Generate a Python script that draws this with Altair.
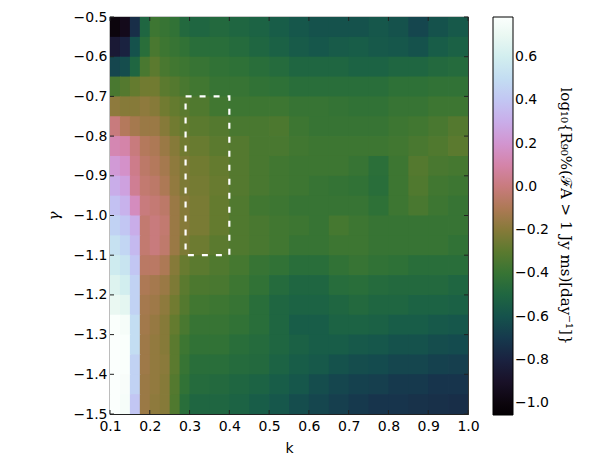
import numpy as np
import pandas as pd
import altair as alt

# ---- data ----
k_edges = [0.1, 0.125, 0.15, 0.175, 0.2, 0.225, 0.25, 0.275, 0.3, 0.35, 0.4, 0.45,
           0.5, 0.55, 0.6, 0.65, 0.7, 0.75, 0.8, 0.85, 0.9, 0.95, 1.0]
gamma_edges = [-0.5, -0.55, -0.6, -0.65, -0.7, -0.75, -0.8, -0.85, -0.9, -0.95, -1.0,
               -1.05, -1.1, -1.15, -1.2, -1.25, -1.3, -1.35, -1.4, -1.45, -1.5]

# log10 rate, one row per gamma band (top to bottom), one value per k band
rate_rows = [
    [-1.0, -0.95, -0.75, -0.5, -0.38, -0.4, -0.42, -0.48, -0.5, -0.48, -0.5, -0.52, -0.55, -0.58, -0.6, -0.6, -0.6, -0.58, -0.6, -0.65, -0.6, -0.57],
    [-0.85, -0.8, -0.6, -0.45, -0.35, -0.38, -0.4, -0.42, -0.45, -0.45, -0.47, -0.5, -0.53, -0.56, -0.58, -0.56, -0.55, -0.57, -0.58, -0.6, -0.55, -0.53],
    [-0.65, -0.62, -0.5, -0.35, -0.3, -0.35, -0.37, -0.38, -0.4, -0.42, -0.43, -0.45, -0.47, -0.5, -0.5, -0.5, -0.52, -0.52, -0.5, -0.5, -0.48, -0.47],
    [-0.35, -0.32, -0.28, -0.25, -0.25, -0.3, -0.32, -0.35, -0.37, -0.4, -0.4, -0.42, -0.43, -0.45, -0.45, -0.45, -0.45, -0.45, -0.43, -0.43, -0.42, -0.42],
    [-0.18, -0.2, -0.2, -0.18, -0.2, -0.25, -0.28, -0.3, -0.33, -0.37, -0.38, -0.38, -0.38, -0.4, -0.4, -0.41, -0.42, -0.42, -0.4, -0.4, -0.38, -0.38],
    [0.0, -0.08, -0.12, -0.15, -0.15, -0.2, -0.25, -0.28, -0.3, -0.32, -0.35, -0.35, -0.34, -0.38, -0.4, -0.4, -0.4, -0.4, -0.38, -0.37, -0.35, -0.32],
    [0.12, 0.1, 0.0, -0.08, -0.1, -0.15, -0.2, -0.25, -0.27, -0.3, -0.32, -0.35, -0.35, -0.37, -0.38, -0.38, -0.38, -0.38, -0.37, -0.35, -0.33, -0.3],
    [0.22, 0.18, 0.03, -0.05, -0.08, -0.12, -0.18, -0.22, -0.25, -0.28, -0.32, -0.35, -0.37, -0.38, -0.38, -0.38, -0.4, -0.44, -0.38, -0.32, -0.35, -0.36],
    [0.3, 0.25, 0.05, -0.03, -0.05, -0.1, -0.17, -0.22, -0.24, -0.27, -0.32, -0.35, -0.37, -0.38, -0.4, -0.41, -0.42, -0.45, -0.38, -0.33, -0.37, -0.38],
    [0.38, 0.32, 0.15, 0.0, -0.02, -0.05, -0.15, -0.2, -0.23, -0.28, -0.33, -0.37, -0.38, -0.4, -0.4, -0.4, -0.4, -0.43, -0.38, -0.35, -0.38, -0.4],
    [0.45, 0.4, 0.3, -0.03, 0.0, -0.03, -0.15, -0.2, -0.23, -0.28, -0.33, -0.35, -0.37, -0.38, -0.4, -0.36, -0.38, -0.4, -0.4, -0.4, -0.4, -0.4],
    [0.52, 0.47, 0.35, -0.03, 0.0, -0.04, -0.15, -0.22, -0.26, -0.3, -0.33, -0.35, -0.37, -0.4, -0.4, -0.38, -0.38, -0.4, -0.4, -0.4, -0.4, -0.42],
    [0.58, 0.54, 0.4, -0.06, -0.06, -0.1, -0.2, -0.27, -0.3, -0.33, -0.36, -0.4, -0.42, -0.45, -0.45, -0.42, -0.4, -0.42, -0.43, -0.45, -0.45, -0.45],
    [0.65, 0.6, 0.45, -0.1, -0.12, -0.15, -0.22, -0.3, -0.34, -0.35, -0.38, -0.42, -0.47, -0.5, -0.5, -0.46, -0.45, -0.47, -0.48, -0.48, -0.48, -0.5],
    [0.7, 0.68, 0.45, -0.12, -0.14, -0.18, -0.25, -0.32, -0.37, -0.38, -0.4, -0.45, -0.5, -0.52, -0.52, -0.5, -0.48, -0.5, -0.5, -0.52, -0.52, -0.53],
    [0.77, 0.75, 0.5, -0.13, -0.16, -0.2, -0.28, -0.35, -0.4, -0.4, -0.42, -0.45, -0.5, -0.55, -0.55, -0.52, -0.52, -0.53, -0.55, -0.55, -0.57, -0.58],
    [0.78, 0.77, 0.5, -0.14, -0.17, -0.2, -0.3, -0.38, -0.42, -0.42, -0.45, -0.47, -0.5, -0.53, -0.55, -0.55, -0.57, -0.58, -0.6, -0.6, -0.62, -0.63],
    [0.78, 0.77, 0.45, -0.14, -0.17, -0.19, -0.3, -0.4, -0.45, -0.45, -0.47, -0.48, -0.52, -0.55, -0.57, -0.6, -0.62, -0.63, -0.65, -0.65, -0.67, -0.68],
    [0.78, 0.76, 0.45, -0.15, -0.17, -0.2, -0.32, -0.42, -0.47, -0.48, -0.5, -0.52, -0.55, -0.58, -0.62, -0.65, -0.67, -0.68, -0.7, -0.7, -0.72, -0.72],
    [0.78, 0.75, 0.4, -0.15, -0.18, -0.2, -0.33, -0.45, -0.5, -0.5, -0.52, -0.55, -0.58, -0.62, -0.65, -0.68, -0.7, -0.72, -0.72, -0.73, -0.74, -0.75],
]

box_k = [0.29, 0.4]
box_gamma = [-1.1, -0.7]

x_ticks = [0.1, 0.2, 0.3, 0.4, 0.5, 0.6, 0.7, 0.8, 0.9, 1.0]
y_ticks = [-1.5, -1.4, -1.3, -1.2, -1.1, -1.0, -0.9, -0.8, -0.7, -0.6, -0.5]
cbar_ticks = [-1.0, -0.8, -0.6, -0.4, -0.2, 0.0, 0.2, 0.4, 0.6]
cbar_domain = [-1.055, 0.785]

# ---- cubehelix colormap (matplotlib default parameters) ----
def cubehelix_hex(n=64, gamma=1.0, s=0.5, r=-1.5, h=1.0):
    out = []
    for x in np.linspace(0, 1, n):
        xg = x ** gamma
        a = h * xg * (1 - xg) / 2
        phi = 2 * np.pi * (s / 3 + r * x)
        R = xg + a * (-0.14861 * np.cos(phi) + 1.78277 * np.sin(phi))
        G = xg + a * (-0.29227 * np.cos(phi) - 0.90649 * np.sin(phi))
        B = xg + a * (1.97294 * np.cos(phi))
        rgb = [int(round(255 * min(1, max(0, c)))) for c in (R, G, B)]
        out.append("#%02x%02x%02x" % tuple(rgb))
    return out

cmap = cubehelix_hex()

records = []
for i, row in enumerate(rate_rows):
    for j, v in enumerate(row):
        records.append({"k0": k_edges[j], "k1": k_edges[j + 1],
                        "g0": gamma_edges[i], "g1": gamma_edges[i + 1], "v": v})
df = pd.DataFrame(records)

W, H = 358, 397
xs = alt.Scale(domain=[0.1, 1.0], nice=False, zero=False)
ys = alt.Scale(domain=[-1.5, -0.5], nice=False, zero=False)
cs = alt.Scale(domain=cbar_domain, range=cmap, nice=False, zero=False)

xa = alt.Axis(values=x_ticks, format=".1f", title="k", tickSize=0, ticks=False,
              labelPadding=5, titlePadding=8, labelOverlap=False, labelFlush=False)
ya = alt.Axis(values=y_ticks, format=".1f", title="\u03b3", tickSize=0, ticks=False,
              labelPadding=3, titlePadding=12, titleFont="DejaVu Serif",
              titleFontStyle="italic", titleFontSize=15,
              labelOverlap=False, labelFlush=False)

title_txt = "log\u2081\u2080{R\u2089\u2080%(\u2131A > 1 Jy ms)[day\u207b\u00b9]}"

heat = alt.Chart(df).mark_rect(strokeWidth=0, x2Offset=0.8, y2Offset=0.8, clip=True).encode(
    x=alt.X("k0:Q", scale=xs, axis=xa),
    x2="k1:Q",
    y=alt.Y("g0:Q", scale=ys, axis=ya),
    y2="g1:Q",
    color=alt.Color("v:Q", scale=cs,
                    legend=alt.Legend(type="gradient", title=title_txt, values=cbar_ticks,
                                      format=".1f", direction="vertical",
                                      orient="none", legendX=383, legendY=0,
                                      gradientLength=398, gradientThickness=20,
                                      gradientStrokeColor="black", gradientStrokeWidth=1,
                                      labelOffset=2, labelOverlap=False,
                                      titleOrient="right", titlePadding=9,
                                      titleLimit=500, titleAnchor="middle",
                                      titleFont="DejaVu Serif", titleFontSize=15,
                                      titleFontWeight="normal", padding=0)),
)

box_df = pd.DataFrame({"k0": [box_k[0]], "k1": [box_k[1]],
                       "g0": [box_gamma[0]], "g1": [box_gamma[1]]})
box = alt.Chart(box_df).mark_rect(fill=None, fillOpacity=0, stroke="white",
                                  strokeWidth=2.2, strokeDash=[6, 8]).encode(
    x=alt.X("k0:Q", scale=xs, axis=xa), x2="k1:Q",
    y=alt.Y("g0:Q", scale=ys, axis=ya), y2="g1:Q")

xt = pd.DataFrame({"k": x_ticks})
yt = pd.DataFrame({"g": y_ticks})
tick_col = "#222222"
t_bottom = alt.Chart(xt).mark_rule(color=tick_col, strokeWidth=1).encode(
    x=alt.X("k:Q", scale=xs, axis=xa), y=alt.value(H), y2=alt.value(H - 4))
t_top = alt.Chart(xt).mark_rule(color=tick_col, strokeWidth=1).encode(
    x=alt.X("k:Q", scale=xs, axis=xa), y=alt.value(0), y2=alt.value(4))
t_left = alt.Chart(yt).mark_rule(color=tick_col, strokeWidth=1).encode(
    y=alt.Y("g:Q", scale=ys, axis=ya), x=alt.value(0), x2=alt.value(4))
t_right = alt.Chart(yt).mark_rule(color=tick_col, strokeWidth=1).encode(
    y=alt.Y("g:Q", scale=ys, axis=ya), x=alt.value(W), x2=alt.value(W - 4))

chart = alt.layer(heat, box, t_bottom, t_top, t_left, t_right).properties(
    width=W, height=H,
    autosize=alt.AutoSizeParams(type="none"),
    padding={"left": 102, "top": 9, "right": 122, "bottom": 43},
).configure_view(stroke="#222222", strokeWidth=1.2).configure_axis(
    domain=False, grid=False, labelFont="DejaVu Sans", labelFontSize=14,
    labelColor="black", titleFont="DejaVu Sans", titleFontSize=14,
    titleFontWeight="normal", titleColor="black",
).configure_legend(labelFont="DejaVu Sans", labelFontSize=14, labelColor="black",
                   titleColor="black")

chart.save("out.html", embed_options={"renderer": "svg", "actions": False})
